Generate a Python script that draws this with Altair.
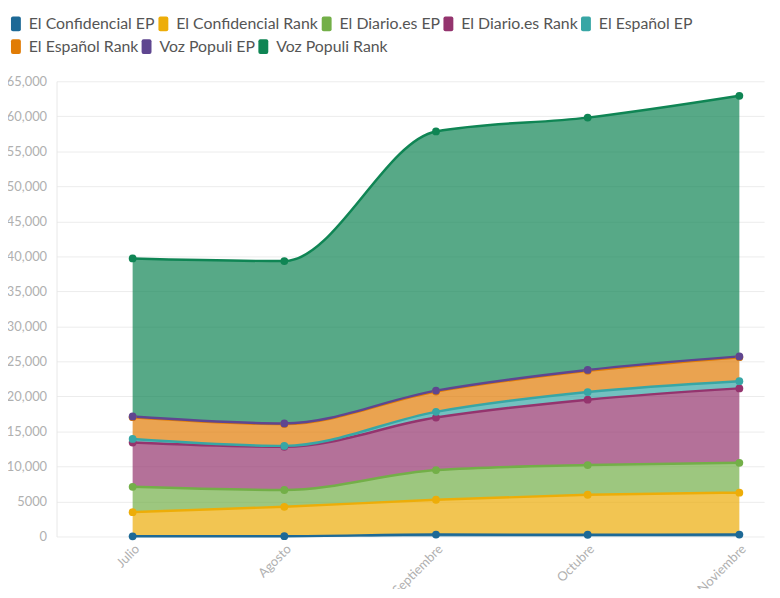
import altair as alt
import pandas as pd

months = ["Julio", "Agosto", "Septiembre", "Octubre", "Noviembre"]
series = ["El Confidencial EP", "El Confidencial Rank", "El Diario.es EP",
          "El Diario.es Rank", "El Español EP", "El Español Rank",
          "Voz Populi EP", "Voz Populi Rank"]
colors = ["#1D6996", "#EDAD08", "#73AF48", "#94346E", "#38A6A5", "#E17C05",
          "#5F4690", "#0F8554"]

el_confidencial_ep = [30, 40, 280, 250, 280]
el_confidencial_rank = [3450, 4200, 4970, 5710, 5980]
el_diario_ep = [3620, 2400, 4240, 4240, 4260]
el_diario_rank = [6320, 6160, 7490, 9340, 10630]
el_espanol_ep = [510, 140, 820, 1090, 1030]
el_espanol_rank = [3110, 3110, 2900, 3020, 3420]
voz_populi_ep = [100, 100, 130, 130, 120]
voz_populi_rank = [22560, 23180, 37010, 36030, 37200]

values = [el_confidencial_ep, el_confidencial_rank, el_diario_ep, el_diario_rank,
          el_espanol_ep, el_espanol_rank, voz_populi_ep, voz_populi_rank]

y_ticks = list(range(0, 65001, 5000))

rows = []
for k, (name, vals) in enumerate(zip(series, values)):
    for i, (m, v) in enumerate(zip(months, vals)):
        rows.append({"i": i, "mes": m, "serie": name, "k": k, "valor": v})
df = pd.DataFrame(rows)

month_expr = "[" + ",".join("'%s'" % m for m in months) + "][datum.value]"

symbol_path = ("M-0.4,-1 L0.4,-1 Q0.667,-1 0.667,-0.73 L0.667,0.73 Q0.667,1 0.4,1 "
               "L-0.4,1 Q-0.667,1 -0.667,0.73 L-0.667,-0.73 Q-0.667,-1 -0.4,-1 Z")

legend_common = dict(title=None, orient="none", legendX=-49,
                     direction="horizontal", symbolType=symbol_path, symbolSize=225,
                     symbolStrokeWidth=0, symbolOpacity=1,
                     labelFontSize=16, labelColor="#555555",
                     labelOffset=5, columnPadding=0, labelLimit=300)

x_enc = alt.X("i:Q",
              scale=alt.Scale(domain=[-0.502, 4.163], nice=False, zero=False),
              axis=alt.Axis(values=list(range(len(months))), labelExpr=month_expr,
                            labelAngle=315, labelAlign="right", labelBaseline="top",
                            labelPadding=6, grid=False, ticks=False, domain=False,
                            title=None, labelColor="#b0b0b0", labelFontSize=13))
y_enc = alt.Y("y1:Q",
              scale=alt.Scale(domain=[0, 65000], nice=False),
              axis=alt.Axis(values=y_ticks, grid=True, gridColor="#ececec",
                            ticks=False, domain=True, domainColor="#e8e8e8",
                            labelPadding=10, title=None, labelColor="#b0b0b0",
                            labelFontSize=13,
                            labelExpr="datum.value >= 10000 ? format(datum.value, ',') : format(datum.value, 'd')"))

# legend row 1 (first five series) comes from the points' colour
color_enc = alt.Color("serie:N",
                      scale=alt.Scale(domain=series, range=colors),
                      legend=alt.Legend(values=series[:5], legendY=-66, **legend_common))

# legend row 2 (last three series) comes from the areas' fill; reversed domain keeps it separate
fill_enc = alt.Fill("serie:N",
                    scale=alt.Scale(domain=series[::-1], range=colors[::-1]),
                    legend=alt.Legend(values=series[5:], legendY=-43, **legend_common))

# line colours: a rotated domain order so this scale stays apart from the two legends
stroke_enc = alt.Stroke("serie:N",
                        scale=alt.Scale(domain=series[1:] + series[:1],
                                        range=colors[1:] + colors[:1]),
                        legend=None)

base = alt.Chart(df).transform_stack(
    stack="valor", groupby=["i"], as_=["y0", "y1"],
    sort=[alt.SortField("k", order="ascending")]
)

area = base.mark_area(interpolate="monotone", opacity=0.7).encode(
    x=x_enc, y=y_enc, y2="y0:Q", fill=fill_enc)
line = base.mark_line(interpolate="monotone", strokeWidth=2.5).encode(
    x=x_enc, y=y_enc, stroke=stroke_enc)
points = base.mark_circle(size=62, opacity=1).encode(
    x=x_enc, y=y_enc, color=color_enc)

chart = alt.layer(area, line, points).properties(
    width=715, height=460,
    autosize=alt.AutoSizeParams(type="none"),
    padding={"left": 49, "top": 71, "right": 8, "bottom": 50},
).configure(font="Lato").configure_view(stroke=None)

chart.save("out.html", embed_options={"renderer": "svg", "actions": False})
